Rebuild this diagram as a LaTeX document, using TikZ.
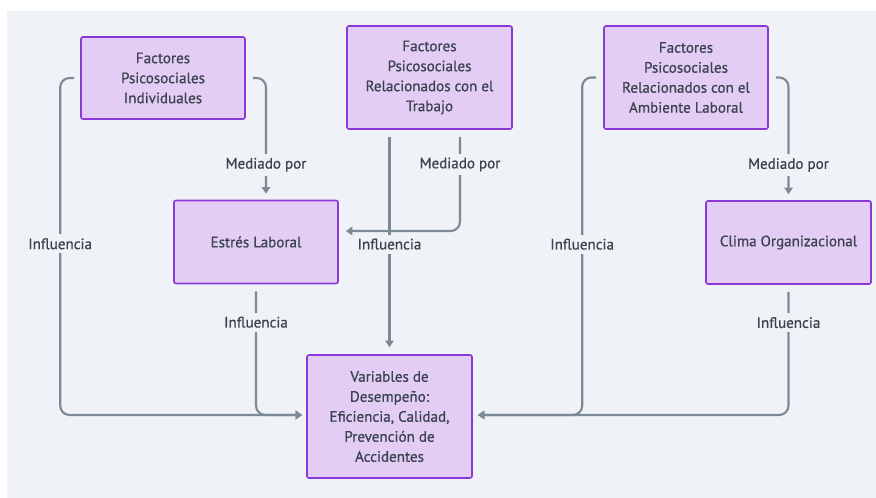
\documentclass[tikz,border=0pt]{standalone}
\usepackage{fontspec}
\setmainfont{PT Sans}[FakeBold=0.7]
\usetikzlibrary{arrows.meta,calc}
\definecolor{bgc}{HTML}{EFF3F7}
\definecolor{nodefill}{HTML}{E4CDF4}
\definecolor{nodedraw}{HTML}{8A38D8}
\definecolor{edgec}{HTML}{7D8A96}
\definecolor{txtc}{HTML}{3A4350}
\tikzset{
  x=0.75pt,y=-0.75pt,
  box/.style={draw=nodedraw,fill=nodefill,line width=1.2pt,rounded corners=1.5pt,
    align=center,text=txtc,font=\fontsize{11.3}{15}\selectfont,inner sep=0pt},
  edge/.style={draw=edgec,line width=1.6pt,rounded corners=7pt,
    -{Triangle[length=5pt,width=6.5pt]}},
  lbl/.style={fill=bgc,text=txtc,font=\fontsize{11.3}{12}\selectfont,inner sep=3pt,
    rounded corners=0pt}
}
\begin{document}
\begin{tikzpicture}
\useasboundingbox (0,0) rectangle (876,498);
\fill[white] (-2,-2) rectangle (880,502);
\fill[bgc] (7,11) rectangle (880,502);

\node[box,minimum width=164*0.75pt,minimum height=82*0.75pt] (A) at (163,78)
  {Factores\\Psicosociales\\Individuales};
\node[box,minimum width=165*0.75pt,minimum height=103*0.75pt] (B) at (429.5,77.5)
  {Factores\\Psicosociales\\Relacionados con el\\Trabajo};
\node[box,minimum width=164*0.75pt,minimum height=103*0.75pt] (C) at (686,77.5)
  {Factores\\Psicosociales\\Relacionados con el\\Ambiente Laboral};
\node[box,minimum width=164*0.75pt,minimum height=83*0.75pt] (D) at (256,242)
  {Estrés Laboral};
\node[box,minimum width=165*0.75pt,minimum height=83*0.75pt] (E) at (788.5,242.5)
  {Clima Organizacional};
\node[box,minimum width=165*0.75pt,minimum height=123*0.75pt] (F) at (389.5,416.5)
  {Variables de\\Desempeño:\\Eficiencia, Calidad,\\Prevención de\\Accidentes};

% A -> F
\draw[edge] ($(A.west)+(-6,0)$) -- ++(-14,0)
  |- node[pos=0.246,lbl] {Influencia} ($(F.west)+(-4,-1.5)$);
% A -> D
\draw[edge] ($(A.east)+(7,0)$) -| node[pos=0.875,lbl] {Mediado por} ($(D.north)+(10,-6)$);
% B -> D
\draw[edge] ($(B.south)+(30.5,7)$) |- node[pos=0.147,lbl] {Mediado por} ($(D.east)+(7,-11)$);
% B -> F
\draw[edge] ($(F.north |- B.south)+(0,7)$) -- node[pos=0.51,lbl] {Influencia} ($(F.north)+(0,-7)$);
% C -> F
\draw[edge] ($(C.west)+(-7,0)$) -- ++(-14,0)
  |- node[pos=0.247,lbl] {Influencia} ($(F.east)+(5,-1.5)$);
% C -> E
\draw[edge] ($(C.east)+(7,0)$) -| node[pos=0.875,lbl] {Mediado por} ($(E.north)+(0,-6)$);
% D -> F
\draw[edge] ($(D.south)+(0,7)$) |- node[pos=0.125,lbl] {Influencia} ($(F.west)+(-4,-1.5)$);
% E -> F
\draw[edge] ($(E.south)+(0,7)$) |- node[pos=0.125,lbl] {Influencia} ($(F.east)+(5,-1.5)$);
\end{tikzpicture}
\end{document}
